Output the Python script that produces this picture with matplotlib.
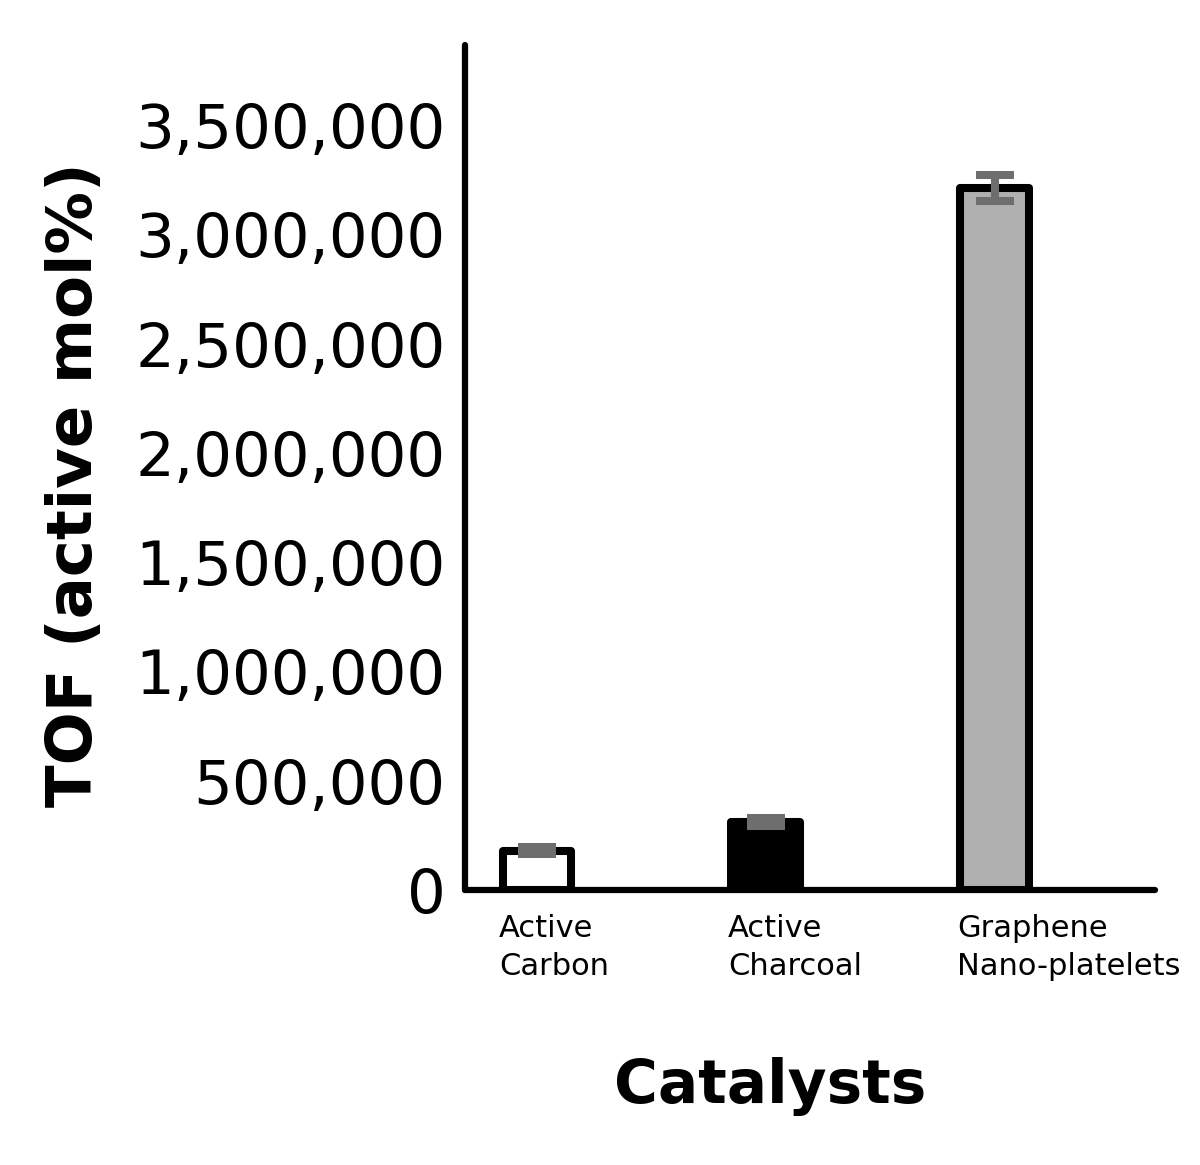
import numpy as np
import matplotlib.pyplot as plt
import matplotlib.transforms as mtransforms

catalysts = ["Active\nCarbon", "Active\nCharcoal", "Graphene\nNano-platelets"]
tof = [180000, 310000, 3210000]
tof_err = [15000, 19000, 60000]
fills = ["white", "black", "#b0b0b0"]
yticks = [0, 500000, 1000000, 1500000, 2000000, 2500000, 3000000, 3500000]

fig = plt.figure(figsize=(12, 11.65), dpi=100)
ax = fig.add_axes([0.3875, 0.236, 0.575, 0.7254])

x = np.arange(len(catalysts))
ax.bar(x, tof, width=0.3, color=fills, edgecolor="black", linewidth=5.8,
       joinstyle="round", zorder=2)
ax.errorbar(x, tof, yerr=tof_err, fmt="none", ecolor="#6e6e6e",
            elinewidth=5.8, capsize=14, capthick=5.8, zorder=3)

ax.set_xlim(-0.314, 2.70)
ax.set_ylim(0, 3866000)
ax.set_yticks(yticks)
ax.set_yticklabels([f"{v:,}" for v in yticks], fontsize=44)
ax.tick_params(axis="y", length=0, pad=14)
ax.set_xticks([])

for side in ("top", "right"):
    ax.spines[side].set_visible(False)
for side in ("left", "bottom"):
    ax.spines[side].set_linewidth(4.5)
    ax.spines[side].set_capstyle("round")

trans = mtransforms.blended_transform_factory(ax.transData, ax.transAxes)
for xi, lab in zip(x, catalysts):
    ax.text(xi - 0.165, -0.028, lab, transform=trans, ha="left", va="top",
            fontsize=22, linespacing=1.4)

fig.text(0.0625, 0.584, "TOF (active mol%)", rotation=90, ha="center",
         va="center", fontsize=45, fontweight="bold")
fig.text(0.642, 0.067, "Catalysts", ha="center", va="center",
         fontsize=43, fontweight="bold")

fig.savefig("out.png", dpi=100)
